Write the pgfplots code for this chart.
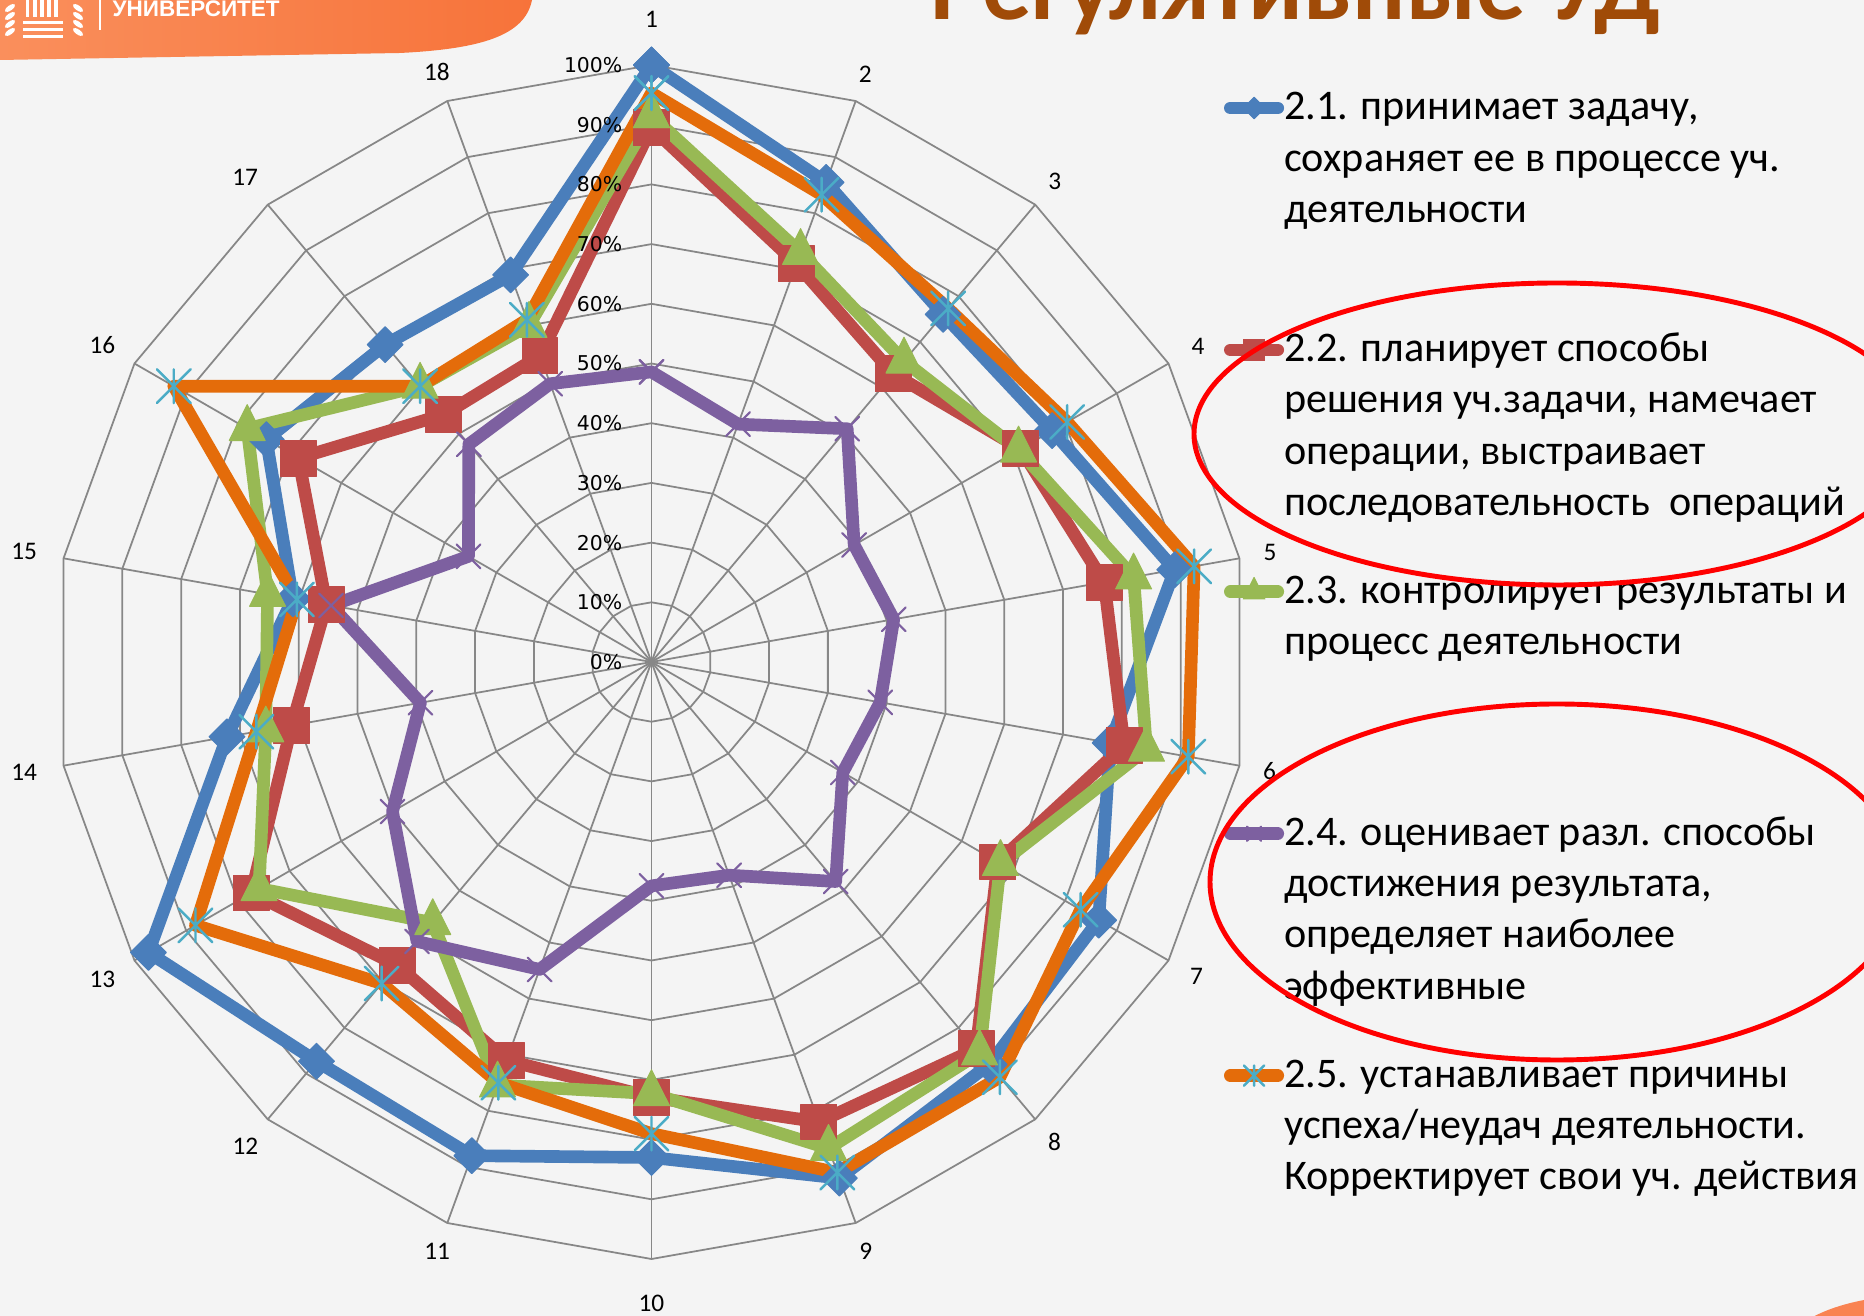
\documentclass[border=0pt]{standalone}
\usepackage{fontspec}
\setmainfont{Carlito}
\newfontfamily\dvs{DejaVu Sans}
\newfontfamily\lib{Liberation Sans}
\usepackage{pgfplots}
\usepackage{pgfplotstable}
\pgfplotsset{compat=1.18}
\usepgfplotslibrary{polar}

\definecolor{bgc}{HTML}{F4F4F4}
\definecolor{gridc}{HTML}{878787}
\definecolor{c21}{HTML}{4A7EBB}
\definecolor{c22}{HTML}{BE4B48}
\definecolor{c23}{HTML}{98B954}
\definecolor{c24}{HTML}{7D60A0}
\definecolor{c25}{HTML}{E46C0A}
\definecolor{cstar}{HTML}{4BACC6}
\definecolor{bannerL}{HTML}{FA8F5C}
\definecolor{bannerR}{HTML}{F7733A}
\definecolor{titlec}{HTML}{A04B08}
\definecolor{blobc}{HTML}{F98352}

% star marker as drawn by the spreadsheet: vertical bar plus an x
\pgfdeclareplotmark{xstar}{%
  \pgfpathmoveto{\pgfqpoint{0pt}{\pgfplotmarksize}}%
  \pgfpathlineto{\pgfqpoint{0pt}{-\pgfplotmarksize}}%
  \pgfpathmoveto{\pgfqpoint{-\pgfplotmarksize}{-\pgfplotmarksize}}%
  \pgfpathlineto{\pgfqpoint{\pgfplotmarksize}{\pgfplotmarksize}}%
  \pgfpathmoveto{\pgfqpoint{-\pgfplotmarksize}{\pgfplotmarksize}}%
  \pgfpathlineto{\pgfqpoint{\pgfplotmarksize}{-\pgfplotmarksize}}%
  \pgfusepathqstroke}

\newcommand\legfont{\fontsize{12}{14.55}\selectfont}
\newcommand\legtext[1]{\parbox[t]{6.4cm}{\raggedright\strut #1}}

% angle (deg) of each of the 18 spokes, then one column per series (%)
\pgfplotstableread{
ang  a     b     c     d     e
90   100   89.5  91.5  48.6  95.3
70   85.5  71    73    42.4  83.3
50   76    63    65.8  51    77.3
30   77.5  71.4  71    39.2  80.4
10   89    77    82    41.2  92.3
350  78    80.4  84.2  38.9  91.3
330  86.5  67    67.5  37    83
310  88    84.6  85.5  48    90.8
290  92    82    86.7  38    91
270  83    72.9  72.3  37.5  79
250  88    71    75.4  54.8  75
230  87.3  66.3  57    61.1  70.3
210  97.3  77.4  75.9  50.1  88.2
190  72.2  61.2  65.6  39.3  67.2
170  61    55.3  65.3  54.5  60.3
150  74.5  68.3  78.2  35.4  92.4
130  69.4  54.1  60.3  47.6  60.3
110  69    54.6  60    49.6  61
90   100   89.5  91.5  48.6  95.3
}\radardata

\begin{document}
\begin{tikzpicture}
\useasboundingbox (0,0) rectangle (18.64,13.16);
\fill[bgc] (0,0) rectangle (18.64,13.16);

% slide header
\shade[left color=bannerL, right color=bannerR]
  (0,13.16) -- (5.32,13.16) .. controls (5.25,12.80) and (4.8,12.67) .. (4.0,12.63) -- (0,12.56) -- cycle;
\foreach \x in {0.26,0.33,0.40,0.47,0.54}
  \fill[white] (\x,12.99) rectangle ++(0.035,0.17);
\foreach \y in {12.92,12.85,12.78}
  \fill[white] (0.23,\y) rectangle (0.63,\y+0.03);
\foreach \y in {12.84,12.92,13.00,13.08}{
  \fill[white, rotate around={35:(0.10,\y)}] (0.10,\y) ellipse [x radius=0.06, y radius=0.025];
  \fill[white, rotate around={-35:(0.78,\y)}] (0.78,\y) ellipse [x radius=0.06, y radius=0.025];
}
\draw[white, line width=0.6pt] (1.00,13.16) -- (1.00,12.86);
\node[anchor=base west, inner sep=0pt, text=white, font=\lib\bfseries\fontsize{6.4}{7}\selectfont]
  at (1.12,12.99) {УНИВЕРСИТЕТ};
\node[anchor=base west, inner sep=0pt, text=titlec, font=\bfseries\fontsize{28}{30}\selectfont]
  at (9.3,12.96) {Регулятивные УД};

\begin{polaraxis}[
  at={(6.515cm,6.54cm)}, anchor=center,
  width=11.94cm, height=11.94cm, scale only axis,
  xmin=0, xmax=360, ymin=0, ymax=100,
  hide axis, clip=false,
  legend style={draw=none, fill=none, inner sep=0pt, outer sep=0pt,
    at={(axis description cs:0.9795,0.984)}, anchor=north west,
    column sep=0pt, row sep=0pt, cells={anchor=base west},
    nodes={inner sep=0pt, font=\legfont, text height=10.19pt, text depth=58.64pt}},
  legend image code/.code={%
    \draw[mark repeat=2, mark phase=2, #1, every mark/.append style={scale=0.6}]
      plot coordinates {(0.063cm,3.4pt) (0.3cm,3.4pt) (0.537cm,3.4pt)};},
  every axis plot/.append style={line width=3.6pt, line join=round, line cap=round},
]
% spider web
\pgfplotsinvokeforeach{10,20,...,100}{%
  \draw[gridc, line width=0.5pt] (axis cs:90,#1)
    \foreach \a in {70,50,...,-250}{ -- (axis cs:\a,#1)} -- cycle;
}
\pgfplotsinvokeforeach{10,30,...,350}{%
  \draw[gridc, line width=0.5pt] (axis cs:0,0) -- (axis cs:#1,100);
}
\tikzset{lbl/.style={inner sep=0pt, font=\fontsize{7.2}{8}\selectfont}}
\node[lbl] at (axis cs:90,107.6) {1};
\node[lbl] at (axis cs:70,104.7) {2};
\node[lbl] at (axis cs:50,105.1) {3};
\node[lbl] at (axis cs:30,105.7) {4};
\node[lbl] at (axis cs:10,105.2) {5};
\node[lbl] at (axis cs:350,105.1) {6};
\node[lbl] at (axis cs:330,105.4) {7};
\node[lbl] at (axis cs:310,105) {8};
\node[lbl] at (axis cs:290,105) {9};
\node[lbl] at (axis cs:270,107.5) {10};
\node[lbl] at (axis cs:250,105) {11};
\node[lbl] at (axis cs:230,105.8) {12};
\node[lbl] at (axis cs:210,106.2) {13};
\node[lbl] at (axis cs:190,106.7) {14};
\node[lbl] at (axis cs:170,106.7) {15};
\node[lbl] at (axis cs:150,106.2) {16};
\node[lbl] at (axis cs:130,105.9) {17};
\node[lbl] at (axis cs:110,105.1) {18};

\addplot[c21, mark=square*, mark size=3.6pt,
  mark options={solid, rotate=45, fill=c21, draw=c21, line width=0.3pt}]
  table[x=ang, y=a] {\radardata};
\addlegendentry{\legtext{2.1. принимает задачу,\\сохраняет ее в процессе уч.\\деятельности}}
\addplot[c22, mark=square*, mark size=5.1pt,
  mark options={solid, fill=c22, draw=c22, line width=0.3pt}]
  table[x=ang, y=b] {\radardata};
\addlegendentry{\legtext{2.2. планирует способы\\решения уч.задачи, намечает\\операции, выстраивает\\последовательность\ \ операций}}
\addplot[c23, mark=triangle*, mark size=5.9pt,
  mark options={solid, yscale=1.15, fill=c23, draw=c23, line width=0.3pt}]
  table[x=ang, y=c] {\radardata};
\addlegendentry{\legtext{2.3. контролирует результаты и\\процесс деятельности}}
\addplot[c24, mark=x, mark size=4.8pt,
  mark options={solid, draw=c24, line width=0.6pt}]
  table[x=ang, y=d] {\radardata};
\addlegendentry{\legtext{2.4. оценивает разл. способы\\достижения результата,\\определяет наиболее\\эффективные}}
\addplot[c25, mark=xstar, mark size=4.8pt,
  mark options={solid, draw=cstar, line width=0.7pt}]
  table[x=ang, y=e] {\radardata};
\addlegendentry{\legtext{2.5. устанавливает причины\\успеха/неудач деятельности.\\Корректирует свои уч. действия}}

% radial value labels on top of the series
\pgfplotsinvokeforeach{0,10,...,100}{%
  \node[anchor=east, inner sep=0pt, xshift=-2.85mm, font=\dvs\fontsize{5.8}{7}\selectfont]
    at (axis cs:90,#1) {#1\%};
}
\end{polaraxis}

\draw[red, line width=1.4pt] (15.57,8.82) ellipse [x radius=3.63, y radius=1.51];
\draw[red, line width=1.4pt] (15.57,4.34) ellipse [x radius=3.47, y radius=1.78];
\fill[blobc] (19.2,-0.34) ellipse [x radius=1.34, y radius=0.55];
\end{tikzpicture}
\end{document}
